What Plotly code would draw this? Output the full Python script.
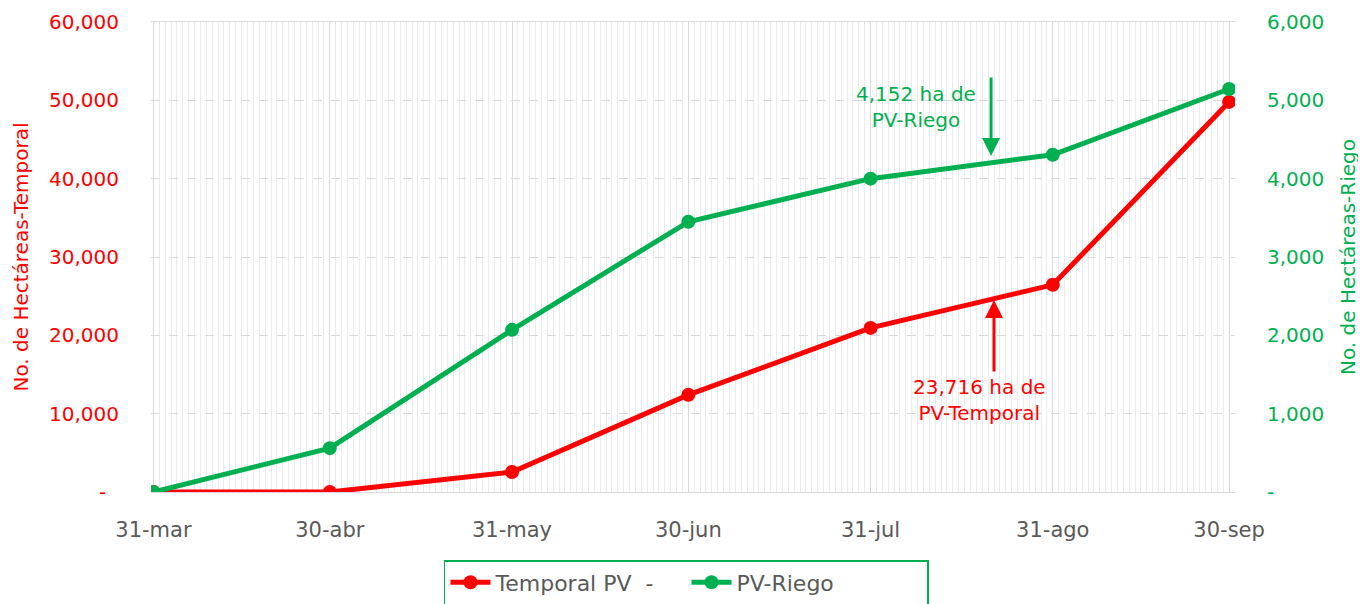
import plotly.graph_objects as go

dates = ["2023-03-31", "2023-04-30", "2023-05-31", "2023-06-30", "2023-07-31", "2023-08-31", "2023-09-30"]
tick_labels = ["31-mar", "30-abr", "31-may", "30-jun", "31-jul", "31-ago", "30-sep"]
temporal = [0, 0, 2550, 12400, 20950, 26450, 49800]
riego = [0, 560, 2070, 3450, 4000, 4305, 5145]

left_vals = [0, 10000, 20000, 30000, 40000, 50000, 60000]
left_text = ["-\u00a0\u00a0", "10,000", "20,000", "30,000", "40,000", "50,000", "60,000"]
right_vals = [0, 1000, 2000, 3000, 4000, 5000, 6000]
right_text = ["-", "1,000", "2,000", "3,000", "4,000", "5,000", "6,000"]

RED = "#FF0000"
GREEN = "#00B050"
GRAY = "#595959"
FONT = "DejaVu Sans"

fig = go.Figure()
fig.add_trace(go.Scatter(x=dates, y=temporal, name="Temporal PV\u00a0\u00a0-", mode="lines+markers",
                         line=dict(color=RED, width=5), marker=dict(size=14, color=RED)))
fig.add_trace(go.Scatter(x=dates, y=riego, name="PV-Riego", mode="lines+markers", yaxis="y2",
                         line=dict(color=GREEN, width=5), marker=dict(size=14, color=GREEN)))

# annotations
fig.add_annotation(x="2023-08-20 12:00", y=4290, xref="x", yref="y2", text="", showarrow=True,
                   arrowhead=2, arrowsize=1.2, arrowwidth=3, arrowcolor=GREEN, ax=0, ay=-80)
fig.add_annotation(x="2023-08-07 18:00", y=4915, xref="x", yref="y2", text="4,152 ha de<br>PV-Riego",
                   showarrow=False, font=dict(family=FONT, size=20, color=GREEN))
fig.add_annotation(x="2023-08-21", y=24500, xref="x", yref="y", text="", showarrow=True,
                   arrowhead=2, arrowsize=1.2, arrowwidth=3, arrowcolor=RED, ax=0, ay=73)
fig.add_annotation(x="2023-08-18 12:00", y=11745, xref="x", yref="y", text="23,716 ha de<br>PV-Temporal",
                   showarrow=False, font=dict(family=FONT, size=20, color=RED))

fig.update_layout(
    width=1358, height=596,
    margin=dict(l=143, r=131, t=14, b=112),
    plot_bgcolor="white", paper_bgcolor="white",
    font=dict(family=FONT, color=GRAY),
    xaxis=dict(
        type="date",
        range=["2023-03-30 14:00", "2023-10-01 00:00"],
        tickmode="array", tickvals=dates, ticktext=tick_labels,
        tickfont=dict(size=21, color=GRAY),
        showgrid=True, gridcolor="#D9D9D9", gridwidth=1,
        showline=True, linecolor="#D9D9D9", mirror=True,
        ticks="", ticklabelstandoff=19, automargin=False,
        minor=dict(tickmode="linear", tick0="2023-03-31", dtick=86400000,
                   showgrid=True, gridcolor="#EBEBEB", gridwidth=1),
        zeroline=False,
    ),
    yaxis=dict(
        range=[0, 60000], tickmode="array", tickvals=left_vals, ticktext=left_text,
        tickfont=dict(size=20, color=RED),
        showgrid=True, gridcolor="#D9D9D9", griddash="dash", gridwidth=1,
        zeroline=False, showline=False, ticks="", ticklabelstandoff=31, automargin=False,
        title=dict(text="No. de Hectáreas-Temporal", font=dict(size=20, color=RED), standoff=15),
    ),
    yaxis2=dict(
        range=[0, 6000], overlaying="y", side="right", tickmode="array",
        tickvals=right_vals, ticktext=right_text,
        tickfont=dict(size=20, color=GREEN),
        showgrid=False, zeroline=False, ticks="", ticklabelstandoff=31, automargin=False,
        title=dict(text="No. de Hectáreas-Riego", font=dict(size=20, color=GREEN), standoff=17),
    ),
    legend=dict(
        orientation="h", x=0.494, xanchor="center", xref="paper",
        y=0.0738, yanchor="top", yref="container",
        bordercolor=GREEN, borderwidth=1.5, font=dict(size=22, color=GRAY),
        entrywidth=186, entrywidthmode="pixels", itemwidth=40,
    ),
    showlegend=True,
)

fig.write_html("out.html")
